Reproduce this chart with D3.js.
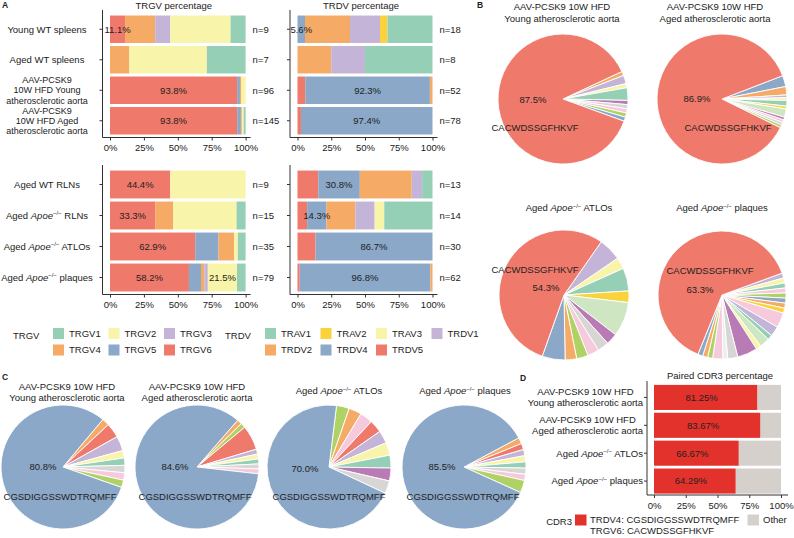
<!DOCTYPE html>
<html>
<head>
<meta charset="utf-8">
<script src="https://d3js.org/d3.v7.min.js"></script>
<style>
body { margin: 0; background: #fff; }
svg text { font-family: "Liberation Sans", Arial, Helvetica, sans-serif; fill: #222; }
</style>
</head>
<body>
<svg id="fig" width="794" height="538"></svg>
<script>
// ---------- data (panel A: clone counts per V gene) ----------
const groupsTop = ["Young WT spleens", "Aged WT spleens",
  "AAV-PCSK9\n10W HFD Young\natherosclerotic aorta", "AAV-PCSK9\n10W HFD Aged\natherosclerotic aorta"];
const groupsBottom = ["Aged WT RLNs", "Aged Apoe-/- RLNs", "Aged Apoe-/- ATLOs", "Aged Apoe-/- plaques"];

const trgvGenes = ["TRGV1", "TRGV2", "TRGV3", "TRGV4", "TRGV5", "TRGV6"];
const trdvGenes = ["TRAV1", "TRAV2", "TRAV3", "TRDV1", "TRDV2", "TRDV4", "TRDV5"];

const trgvTop = [[1, 4, 1, 2, 0, 1], [2, 4, 0, 1, 0, 0], [0, 3, 0, 1, 2, 90], [2, 2, 0, 1, 4, 136]];
const trgvBottom = [[0, 5, 0, 0, 0, 4], [1, 7, 0, 2, 0, 5], [2, 1, 0, 4, 6, 22], [5, 17, 2, 2, 7, 46]];
const trdvTop = [[6, 1, 0, 4, 6, 1, 0], [4, 0, 0, 2, 2, 0, 0], [0, 0, 0, 0, 1, 48, 3], [0, 0, 0, 0, 0, 76, 2]];
const trdvBottom = [[1, 0, 0, 1, 5, 4, 2], [5, 0, 1, 2, 3, 2, 1], [0, 0, 0, 0, 0, 26, 4], [0, 0, 0, 0, 1, 60, 1]];

// which segments carry a percentage label
const trgvTopLabelled = [["TRGV6"], [], ["TRGV6"], ["TRGV6"]];
const trgvBottomLabelled = [["TRGV6"], ["TRGV6"], ["TRGV6"], ["TRGV6", "TRGV2"]];
const trdvTopLabelled = [["TRDV4"], [], ["TRDV4"], ["TRDV4"]];
const trdvBottomLabelled = [["TRDV4"], ["TRDV4"], ["TRDV4"], ["TRDV4"]];

// ---------- data (panels B, C: CDR3 clone counts) ----------
const pieGroups = ["AAV-PCSK9 10W HFD\nYoung atherosclerotic aorta", "AAV-PCSK9 10W HFD\nAged atherosclerotic aorta",
  "Aged Apoe-/- ATLOs", "Aged Apoe-/- plaques"];
const trgvCdr3 = "CACWDSSGFHKVF";
const trgvPieMain = [84, 126, 19, 50];
const trgvPieOthers = [
  [1, 2, 1, 3, 1, 1, 1, 1, 1],
  [4, 3, 1, 1, 2, 1, 3, 1, 1, 1, 1],
  [2, 1, 2, 1, 3, 1, 1, 1, 1, 1, 2],
  [1, 1, 1, 1, 1, 1, 1, 1, 3, 2, 1, 2, 1, 4, 2, 1, 2, 1, 1, 1]
];
const trgvPieOtherKeys = [
  ["orange", "lavender", "yellow", "teal", "purple", "gray", "pink", "lime", "blue"],
  ["blue", "orange", "lavender", "yellow", "teal", "gold", "lightgreen", "purple", "pink", "gray", "lime"],
  ["lavender", "yellow", "teal", "gold", "lightgreen", "purple", "gray", "pink", "lime", "orange", "blue"],
  ["lavender", "yellow", "teal", "pink", "lime", "blue", "orange", "gold", "pink", "lavender", "teal",
   "lightgreen", "yellow", "purple", "gray", "pale", "pink", "lime", "orange", "blue"]
];
const trdvCdr3 = "CGSDIGGSSWDTRQMFF";
const trdvPieMain = [42, 66, 21, 53];
const trdvPieOthers = [
  [1, 2, 2, 1, 1, 1, 1, 1],
  [1, 1, 5, 1, 1, 1, 1, 1],
  [1, 1, 1, 1, 1, 1, 1, 1, 1],
  [1, 1, 1, 1, 1, 1, 1, 2]
];
const trdvPieOtherKeys = [
  ["orange", "red", "lavender", "yellow", "teal", "gray", "pink", "lime"],
  ["orange", "lime", "red", "lavender", "yellow", "teal", "gray", "pink"],
  ["lime", "orange", "pink", "red", "lavender", "yellow", "teal", "purple", "gray"],
  ["orange", "red", "lavender", "yellow", "teal", "gray", "pink", "lime"]
];

// ---------- data (panel D) ----------
const pairedPct = [81.25, 83.67, 66.67, 64.29];
const pairedLegend = ["TRDV4: CGSDIGGSSWDTRQMFF\nTRGV6: CACWDSSGFHKVF", "Other"];
const pctTicks = [0, 0.25, 0.5, 0.75, 1];

// ---------- styles ----------
const pal = {
  teal: "#95cfb5", yellow: "#f8f4aa", lavender: "#c4b5d8", orange: "#f5aa66", blue: "#8ba8c8",
  red: "#ef7a6b", gold: "#f9d23c", lime: "#b0d165", pink: "#f7c9dd", gray: "#d8d6d4",
  purple: "#b87bb5", lightgreen: "#cfe6c2", pale: "#eeeeee"
};
const trgvColors = [pal.teal, pal.yellow, pal.lavender, pal.orange, pal.blue, pal.red];
const trdvColors = [pal.teal, pal.gold, pal.yellow, pal.lavender, pal.orange, pal.blue, pal.red];
const pairColor = "#e3322b", otherColor = "#d6d0cc";
const fs = 9.5;
const axisCol = "#333";

const svg = d3.select("#fig");

// writes a line of text, italic Apoe with a small -/- superscript
function writeLine(t, line) {
  const parts = line.split("Apoe-/-");
  parts.forEach((p, k) => {
    if (k > 0) {
      t.append("tspan").attr("font-style", "italic").text("Apoe");
      t.append("tspan").attr("font-size", 6).attr("dy", -3.5).text("\u2212/\u2212");
    }
    const s = t.append("tspan").text(p);
    if (k > 0) s.attr("dy", 3.5);
  });
}

function multiLabel(g, str, x, cy, anchor, lh, size) {
  const lines = str.split("\n");
  const top = cy - (lines.length - 1) * lh / 2;
  return lines.map((ln, i) => {
    const t = g.append("text").attr("x", x).attr("y", top + i * lh).attr("dy", "0.35em")
      .attr("text-anchor", anchor).attr("font-size", size || fs);
    writeLine(t, ln);
    return t;
  });
}

function xAxis(g, x, yPos) {
  const ax = g.append("g").attr("transform", `translate(0,${yPos})`)
    .call(d3.axisBottom(x).tickValues(pctTicks).tickFormat(d3.format(".0%")).tickSize(3).tickPadding(4));
  ax.select(".domain").remove();
  ax.selectAll("line").attr("stroke", axisCol);
  ax.selectAll("text").attr("font-size", fs).attr("font-family", null).attr("fill", "#222");
}

// ---------- panel A ----------
function stackChart(o) {
  const g = svg.append("g");
  const x = d3.scaleLinear().domain([0, 1]).range([o.x0, o.x1]);
  const y = d3.scaleBand().domain(o.groups).range([o.y0, o.y1]).paddingInner(0.1).paddingOuter(0.05);
  const color = d3.scaleOrdinal(o.genes, o.colors);
  const rows = o.counts.map((c, i) => {
    const n = d3.sum(c);
    const r = { group: o.groups[i], n: n };
    o.genes.forEach((k, j) => r[k] = c[j] / n);
    return r;
  });
  const series = d3.stack().keys(o.genes.slice().reverse())(rows);

  g.selectAll("g.s").data(series).join("g").attr("fill", s => color(s.key))
    .selectAll("rect").data(s => s.filter(d => d[1] > d[0])).join("rect")
    .attr("x", d => x(d[0])).attr("width", d => x(d[1]) - x(d[0]))
    .attr("y", d => y(d.data.group)).attr("height", y.bandwidth());

  rows.forEach((r, i) => {
    o.labelled[i].forEach(k => {
      const d = series.find(s => s.key === k)[i];
      g.append("text").attr("x", x((d[0] + d[1]) / 2)).attr("y", y(r.group) + y.bandwidth() / 2)
        .attr("dy", "0.35em").attr("text-anchor", "middle").attr("font-size", fs)
        .text(d3.format(".1%")(d[1] - d[0]));
    });
    g.append("text").attr("x", o.x1 + 7).attr("y", y(r.group) + y.bandwidth() / 2)
      .attr("dy", "0.35em").attr("font-size", fs).text("n=" + r.n);
  });

  const ax = o.x0 - 7.5, ay = o.y1 + 1.5;
  g.append("line").attr("x1", ax).attr("x2", ax).attr("y1", o.y0 - 4).attr("y2", ay).attr("stroke", axisCol);
  g.append("line").attr("x1", ax).attr("x2", o.x1 + 5).attr("y1", ay).attr("y2", ay).attr("stroke", axisCol);
  o.groups.forEach(gr => {
    const cy = y(gr) + y.bandwidth() / 2;
    g.append("line").attr("x1", ax - 3).attr("x2", ax).attr("y1", cy).attr("y2", cy).attr("stroke", axisCol);
    if (o.ylabels) {
      const multi = gr.indexOf("\n") >= 0;
      multiLabel(g, gr, 47, cy, "middle", 10.1, multi ? 9 : fs);
    }
  });
  xAxis(g, x, ay);
  if (o.title) {
    g.append("text").attr("x", (o.x0 + o.x1) / 2 - 4).attr("y", 9).attr("text-anchor", "middle")
      .attr("font-size", fs).text(o.title);
  }
}

stackChart({ groups: groupsTop, genes: trgvGenes, counts: trgvTop, labelled: trgvTopLabelled, colors: trgvColors,
  x0: 110, x1: 245.6, y0: 14, y1: 136, title: "TRGV percentage", ylabels: true });
stackChart({ groups: groupsTop, genes: trdvGenes, counts: trdvTop, labelled: trdvTopLabelled, colors: trdvColors,
  x0: 297.5, x1: 432.5, y0: 14, y1: 136, title: "TRDV percentage" });
stackChart({ groups: groupsBottom, genes: trgvGenes, counts: trgvBottom, labelled: trgvBottomLabelled, colors: trgvColors,
  x0: 110, x1: 245.6, y0: 169, y1: 293, ylabels: true });
stackChart({ groups: groupsBottom, genes: trdvGenes, counts: trdvBottom, labelled: trdvBottomLabelled, colors: trdvColors,
  x0: 297.5, x1: 432.5, y0: 169, y1: 293 });

// legend for panel A
function legend(title, genes, colors, tx, sx, cols) {
  const g = svg.append("g");
  g.append("text").attr("x", tx).attr("y", 338.5).attr("font-size", fs).text(title);
  genes.forEach((k, i) => {
    const lx = sx + (i % cols) * 55.5, ly = 328 + Math.floor(i / cols) * 16.5;
    g.append("rect").attr("x", lx).attr("y", ly).attr("width", 11).attr("height", 11).attr("fill", colors[i]);
    g.append("text").attr("x", lx + 16).attr("y", ly + 5.5).attr("dy", "0.35em").attr("font-size", fs).text(k);
  });
}
legend("TRGV", trgvGenes, trgvColors, 13, 53, 3);
legend("TRDV", trdvGenes, trdvColors, 225, 265, 4);

// ---------- panels B and C ----------
const pieBLayout = [
  { cx: 563, cy: 99, r: 65, start: 65, tx: 562, ty: 12.5, pct: [-30, 1], seq: [-28, 29] },
  { cx: 722, cy: 99, r: 65, start: 69, tx: 715, ty: 12.5, pct: [-25, 0], seq: [6, 29] },
  { cx: 564, cy: 295, r: 65, start: 35, tx: 569, ty: 208, pct: [-18, -7], seq: [-29, -25] },
  { cx: 722, cy: 295, r: 64, start: 70, tx: 722, ty: 208, pct: [-22, -5], seq: [-12, -24] }
];
const pieCLayout = [
  { cx: 63, cy: 467, r: 62, start: 40, tx: 67, ty: 392, pct: [-20, 0], seq: [-3, 30] },
  { cx: 197, cy: 467, r: 62, start: 41, tx: 197, ty: 392, pct: [-22, 0], seq: [-2, 30] },
  { cx: 329, cy: 467, r: 62, start: 7, tx: 339, ty: 391, pct: [-24, 2], seq: [0, 30] },
  { cx: 464, cy: 467, r: 62, start: 62, tx: 465, ty: 391, pct: [-22, 0], seq: [-1, 30] }
];

function pieChart(title, main, others, keys, mainKey, seq, L) {
  const slices = others.map((v, i) => ({ v: v, c: keys[i] })).concat([{ v: main, c: mainKey }]);
  const n = d3.sum(slices, d => d.v);
  const a0 = L.start * Math.PI / 180;
  const arcs = d3.pie().sort(null).value(d => d.v).startAngle(a0).endAngle(a0 + 2 * Math.PI)(slices);
  const arc = d3.arc().innerRadius(0).outerRadius(L.r);
  const g = svg.append("g").attr("transform", `translate(${L.cx},${L.cy})`);
  g.selectAll("path").data(arcs).join("path").attr("d", arc)
    .attr("fill", d => pal[d.data.c]).attr("stroke", "#fff").attr("stroke-width", 0.9);
  g.append("text").attr("x", L.pct[0]).attr("y", L.pct[1]).attr("dy", "0.35em").attr("text-anchor", "middle")
    .attr("font-size", fs).text(d3.format(".1%")(main / n));
  g.append("text").attr("x", L.seq[0]).attr("y", L.seq[1]).attr("dy", "0.35em").attr("text-anchor", "middle")
    .attr("font-size", fs).text(seq);
  multiLabel(svg, title, L.tx, L.ty, "middle", 11.5);
}

pieGroups.forEach((t, i) => {
  pieChart(t, trgvPieMain[i], trgvPieOthers[i], trgvPieOtherKeys[i], "red", trgvCdr3, pieBLayout[i]);
  pieChart(t, trdvPieMain[i], trdvPieOthers[i], trdvPieOtherKeys[i], "blue", trdvCdr3, pieCLayout[i]);
});

// ---------- panel D ----------
(function () {
  const g = svg.append("g");
  const x = d3.scaleLinear().domain([0, 1]).range([654, 781]);
  const y = d3.scaleBand().domain(pieGroups).range([383.5, 495]).paddingInner(0.1).paddingOuter(0.05);
  const rows = pieGroups.map((k, i) => ({ group: k, p: pairedPct[i] / 100 }));
  g.selectAll("rect.o").data(rows).join("rect").attr("fill", otherColor)
    .attr("x", d => x(d.p)).attr("width", d => x(1) - x(d.p))
    .attr("y", d => y(d.group)).attr("height", y.bandwidth());
  g.selectAll("rect.p").data(rows).join("rect").attr("fill", pairColor)
    .attr("x", x(0)).attr("width", d => x(d.p) - x(0))
    .attr("y", d => y(d.group)).attr("height", y.bandwidth());
  g.selectAll("text.v").data(rows).join("text")
    .attr("x", d => x(d.p / 2) - 4).attr("y", d => y(d.group) + y.bandwidth() / 2).attr("dy", "0.35em")
    .attr("text-anchor", "middle").attr("font-size", fs).text(d => d3.format(".2f")(d.p * 100) + "%");

  const ax = 647, ay = 495;
  g.append("line").attr("x1", ax).attr("x2", ax).attr("y1", 381).attr("y2", ay).attr("stroke", axisCol);
  g.append("line").attr("x1", ax).attr("x2", 788).attr("y1", ay).attr("y2", ay).attr("stroke", axisCol);
  rows.forEach(r => {
    const cy = y(r.group) + y.bandwidth() / 2;
    g.append("line").attr("x1", ax - 3).attr("x2", ax).attr("y1", cy).attr("y2", cy).attr("stroke", axisCol);
    // block right-aligned against the axis, lines centred within the block
    const ts = multiLabel(g, r.group, 0, cy, "middle", 11);
    const w = d3.max(ts, t => t.node().getComputedTextLength());
    ts.forEach(t => t.attr("x", ax - 4 - w / 2));
  });
  xAxis(g, x, ay);
  g.append("text").attr("x", 720).attr("y", 379).attr("text-anchor", "middle").attr("font-size", fs)
    .text("Paired CDR3 percentage");

  // legend
  g.append("text").attr("x", 572).attr("y", 521.5).attr("dy", "0.35em").attr("text-anchor", "end")
    .attr("font-size", fs).text("CDR3");
  g.append("rect").attr("x", 575).attr("y", 514.5).attr("width", 11.5).attr("height", 11).attr("fill", pairColor);
  multiLabel(g, pairedLegend[0], 590, 525, "start", 11);
  g.append("rect").attr("x", 747.5).attr("y", 514.5).attr("width", 11.5).attr("height", 11).attr("fill", otherColor);
  g.append("text").attr("x", 763).attr("y", 520).attr("dy", "0.35em").attr("font-size", fs).text(pairedLegend[1]);
})();

// ---------- panel letters ----------
[["A", 2, 8], ["B", 477, 8], ["C", 2, 380], ["D", 520, 381]].forEach(p => {
  svg.append("text").attr("x", p[1]).attr("y", p[2]).attr("font-size", 8.5).attr("font-weight", "bold").text(p[0]);
});
</script>
</body>
</html>
